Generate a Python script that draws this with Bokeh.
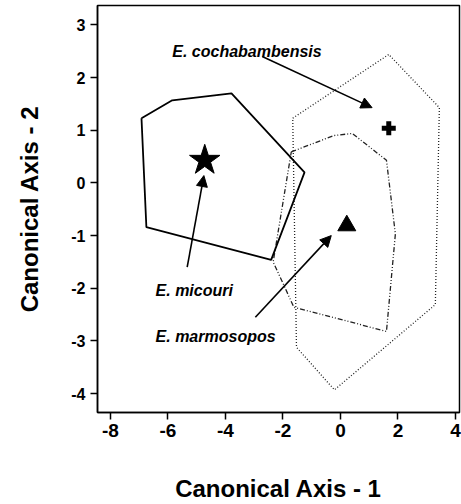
from bokeh.plotting import figure
from bokeh.models import Arrow, NormalHead, Label, FixedTicker, Range1d
from bokeh.embed import file_html
from bokeh.resources import INLINE

# ---- data ----
micouri_x = [-6.92, -5.85, -3.79, -1.25, -2.41, -6.75, -6.92]
micouri_y = [1.23, 1.57, 1.70, 0.20, -1.46, -0.84, 1.23]

cocha_x = [-1.66, 1.68, 3.44, 3.30, -0.21, -1.53, -1.66]
cocha_y = [1.23, 2.44, 1.43, -2.31, -3.93, -3.12, 1.23]

marmo_x = [-1.71, -0.23, 0.41, 1.60, 1.91, 1.60, -1.62, -2.34, -1.71]
marmo_y = [0.59, 0.90, 0.94, 0.43, -0.97, -2.82, -2.36, -1.50, 0.59]

centroid_micouri = (-4.72, 0.43)
centroid_cocha = (1.68, 1.04)
centroid_marmo = (0.22, -0.81)

species = ["E. cochabambensis", "E. micouri", "E. marmosopos"]
label_x = [-5.85, -6.43, -6.43]
label_y = [2.50, -2.04, -2.92]
arrow_x0 = [-2.72, -5.33, -2.96]
arrow_y0 = [2.40, -1.60, -2.55]
arrow_x1 = [1.10, -4.75, -0.32]
arrow_y1 = [1.43, 0.14, -1.00]

x_ticks = [-8, -6, -4, -2, 0, 2, 4]
x_tick_labels = ["-8", "-6", "-4", "-2", "0", "2", "4"]
y_ticks = [-4, -3, -2, -1, 0, 1, 2, 3]
y_tick_labels = ["-4", "-3", "-2", "-1", "0", "1", "2", "3"]

FONT = "Liberation Sans"

p = figure(width=461, height=504, title=None,
           x_range=Range1d(-8.45, 4.14), y_range=Range1d(-4.36, 3.37),
           output_backend="svg", toolbar_location=None,
           min_border_left=97, min_border_right=2,
           min_border_top=5, min_border_bottom=92)

p.grid.visible = False
p.outline_line_color = "black"
p.outline_line_width = 1.5
p.background_fill_color = "white"
p.border_fill_color = "white"

p.xaxis.ticker = FixedTicker(ticks=x_ticks)
p.yaxis.ticker = FixedTicker(ticks=y_ticks)
p.xaxis.major_label_overrides = {t: s for t, s in zip(x_ticks, x_tick_labels)}
p.yaxis.major_label_overrides = {t: s for t, s in zip(y_ticks, y_tick_labels)}

for ax in (p.xaxis[0], p.yaxis[0]):
    ax.minor_tick_line_color = None
    ax.major_tick_in = 0
    ax.major_tick_out = 7
    ax.major_tick_line_width = 1.5
    ax.axis_line_width = 1.5
    ax.axis_line_color = "black"
    ax.major_tick_line_color = "black"
    ax.major_label_text_font = FONT
    ax.major_label_text_font_style = "bold"
    ax.major_label_text_color = "black"
    ax.axis_label_text_font = FONT
    ax.axis_label_text_font_style = "bold"
    ax.axis_label_text_font_size = "24px"
    ax.axis_label_text_color = "black"

p.xaxis.major_label_text_font_size = "19px"
p.yaxis.major_label_text_font_size = "16px"
p.xaxis.major_label_standoff = 4
p.yaxis.major_label_standoff = 5
p.xaxis.axis_label = "Canonical Axis - 1"
p.yaxis.axis_label = "Canonical Axis - 2"
p.xaxis.axis_label_standoff = 35
p.yaxis.axis_label_standoff = 25

# polygons
p.line(cocha_x, cocha_y, line_color="#222222", line_width=1.3, line_dash="1 2")
p.line(marmo_x, marmo_y, line_color="#222222", line_width=1.3, line_dash="5 2 1 2 1 2")
p.line(micouri_x, micouri_y, line_color="black", line_width=1.8)

# centroid markers
p.scatter([centroid_micouri[0]], [centroid_micouri[1]], marker="star", size=32,
          fill_color="black", line_color="black")
p.scatter([centroid_cocha[0]], [centroid_cocha[1]], marker="cross", size=14,
          line_color="black", line_width=5)
p.scatter([centroid_marmo[0]], [centroid_marmo[1]], marker="triangle", size=18,
          fill_color="black", line_color="black")

for i in range(len(species)):
    p.add_layout(Arrow(end=NormalHead(size=11, fill_color="black", line_color="black"),
                       x_start=arrow_x0[i], y_start=arrow_y0[i],
                       x_end=arrow_x1[i], y_end=arrow_y1[i],
                       line_color="black", line_width=1.6))
    p.add_layout(Label(x=label_x[i], y=label_y[i], text=species[i],
                       text_font=FONT, text_font_style="bold italic",
                       text_font_size="16px", text_color="black",
                       text_baseline="alphabetic", text_align="left"))

open("out.html", "w").write(file_html(p, INLINE))
